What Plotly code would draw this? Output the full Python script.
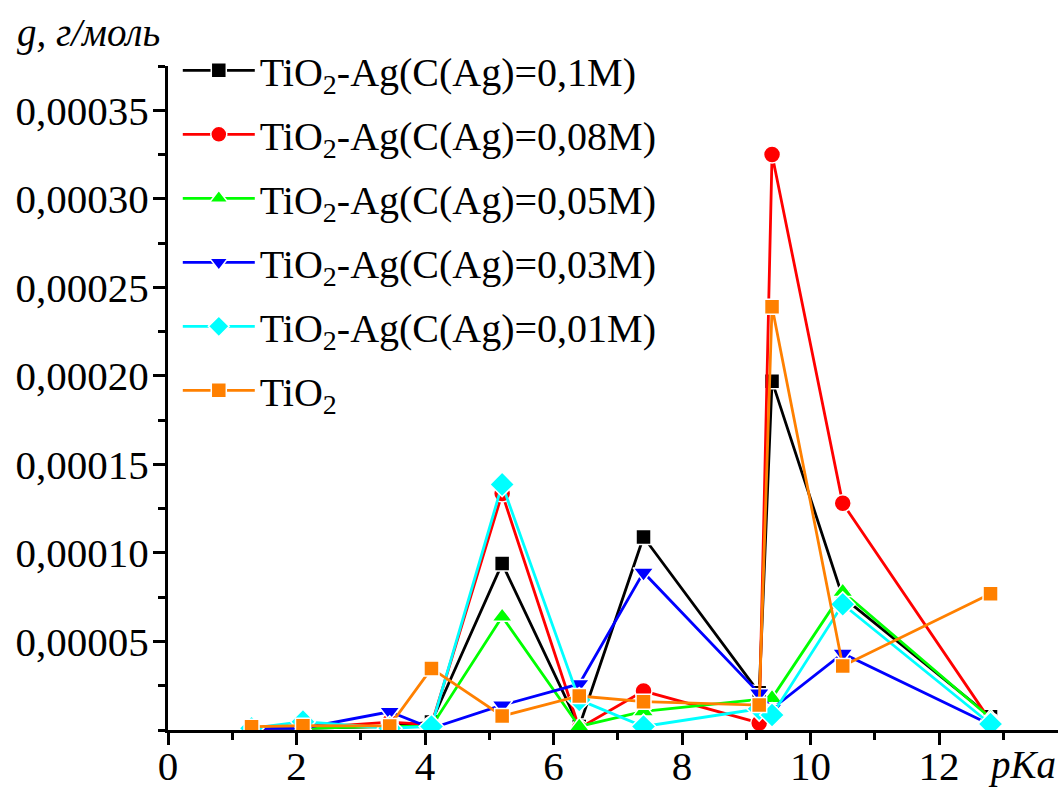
import plotly.graph_objects as go

# pKa of the indicators
pka = [1.3, 2.1, 3.45, 4.1, 5.2, 6.4, 7.4, 9.2, 9.4, 10.5, 12.8]

# adsorbed amount g, mol/g
g_ag_010 = [0.000001, 0.000001, 0.000002, 0.0000045, 0.000094, 0.000002, 0.000109, 0.000021, 0.000197, 0.000075, 0.0000075]
g_ag_008 = [0.000001, 0.000001, 0.0000045, 0.000003, 0.0001335, 0.000001, 0.000022, 0.000004, 0.000325, 0.000128, 0.000005]
g_ag_005 = [0.0000015, 0.000001, 0.000002, 0.000002, 0.000064, 0.000002, 0.0000105, 0.000017, 0.000018, 0.000078, 0.0000068]
g_ag_003 = [0.000001, 0.000001, 0.0000103, 0.000001, 0.000014, 0.000026, 0.000089, 0.0000207, 0.000012, 0.0000432, 0.000003]
g_ag_001 = [0.000001, 0.0000047, 0.000001, 0.000002, 0.0001387, 0.000017, 0.000002, 0.000012, 0.0000085, 0.000071, 0.0000034]
g_tio2 = [0.0000019, 0.0000024, 0.0000023, 0.0000348, 0.0000079, 0.0000192, 0.000016, 0.0000141, 0.000239, 0.0000362, 0.000077]

names = [
    "TiO<sub>2</sub>-Ag(C(Ag)=0,1M)",
    "TiO<sub>2</sub>-Ag(C(Ag)=0,08M)",
    "TiO<sub>2</sub>-Ag(C(Ag)=0,05M)",
    "TiO<sub>2</sub>-Ag(C(Ag)=0,03M)",
    "TiO<sub>2</sub>-Ag(C(Ag)=0,01M)",
    "TiO<sub>2</sub>",
]
series = [g_ag_010, g_ag_008, g_ag_005, g_ag_003, g_ag_001, g_tio2]

y_tick_vals = [0.00005, 0.0001, 0.00015, 0.0002, 0.00025, 0.0003, 0.00035]
y_tick_text = ["0,00005", "0,00010", "0,00015", "0,00020", "0,00025", "0,00030", "0,00035"]
x_tick_vals = [0, 2, 4, 6, 8, 10, 12]

colors = ["#000000", "#ff0000", "#00ff00", "#0000ff", "#00ffff", "#ff8000"]
symbols = ["square", "circle", "triangle-up", "triangle-down", "diamond", "square"]
sizes = [15, 17, 18, 18, 19, 15]

FONT = "Liberation Serif, Times New Roman, serif"

fig = go.Figure()
for i, (name, ys) in enumerate(zip(names, series)):
    fig.add_trace(go.Scatter(
        x=pka, y=ys, name=name, mode="lines+markers",
        line=dict(color=colors[i], width=2.8),
        marker=dict(symbol=symbols[i], size=sizes[i], color=colors[i],
                    line=dict(color="white", width=1.5)),
        legendgroup=str(i),
    ))

axis_common = dict(
    showline=True, linecolor="black", linewidth=3,
    ticks="outside", ticklen=12, tickwidth=3, tickcolor="black",
    showgrid=False, zeroline=False, automargin=False,
    tickfont=dict(family=FONT, size=41, color="black"),
)

fig.update_xaxes(
    range=[0, 13.85], tickvals=x_tick_vals, ticklabelstandoff=-14,
    minor=dict(ticks="outside", ticklen=7, tickwidth=3, tickcolor="black", dtick=1, tick0=0),
    **axis_common,
)
fig.update_yaxes(
    range=[0, 0.000375], tickvals=y_tick_vals, ticktext=y_tick_text, ticklabelstandoff=-4,
    minor=dict(ticks="outside", ticklen=7, tickwidth=3, tickcolor="black", dtick=0.000025, tick0=0),
    **axis_common,
)

fig.add_annotation(text="<i>g, г/моль</i>", xref="paper", yref="paper",
                   x=-0.089, y=1.05, xanchor="center", yanchor="middle", showarrow=False,
                   font=dict(family=FONT, size=39, color="black"))
fig.add_annotation(text="<i>pKa</i>", xref="paper", yref="paper",
                   x=0.9596, y=-0.053, xanchor="center", yanchor="middle", showarrow=False,
                   font=dict(family=FONT, size=39, color="black"))

fig.update_layout(
    width=1061, height=787,
    margin=dict(l=168, r=3, t=66, b=57, autoexpand=False),
    paper_bgcolor="white", plot_bgcolor="white",
    showlegend=True,
    legend=dict(x=0.011, y=1.0425, xanchor="left", yanchor="top",
                font=dict(family=FONT, size=40, color="black"),
                bgcolor="rgba(0,0,0,0)", borderwidth=0,
                itemwidth=72, tracegroupgap=9, traceorder="grouped"),
)

fig.write_html("out.html")
